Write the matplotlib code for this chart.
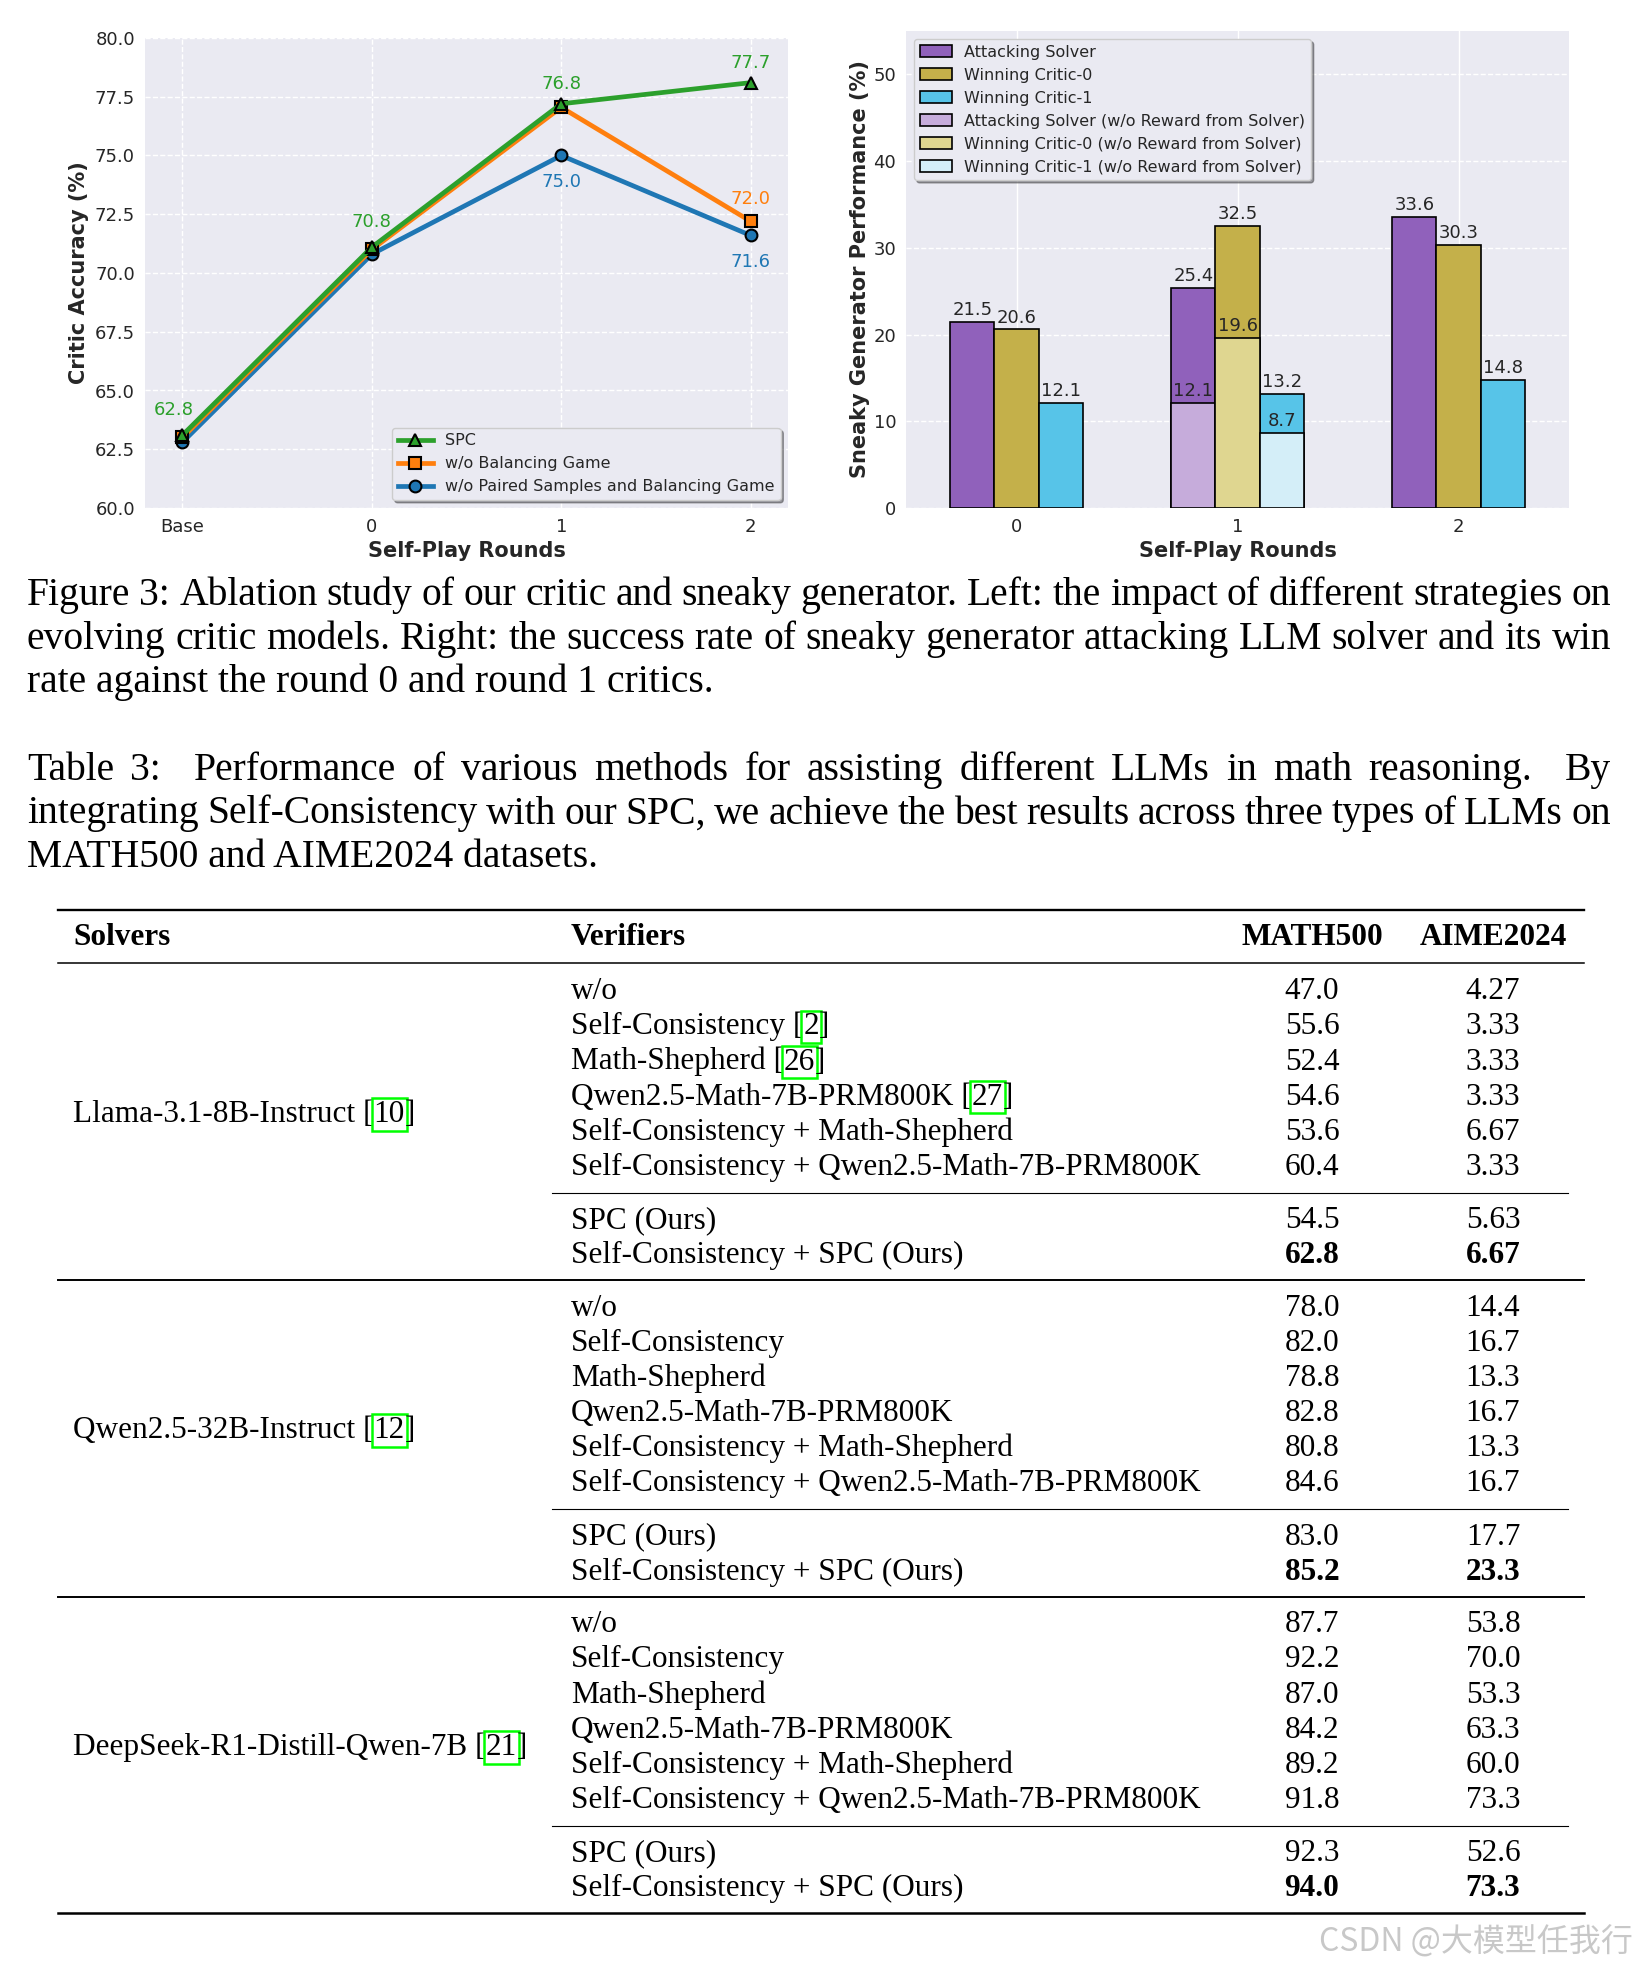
import numpy as np
import matplotlib
matplotlib.use("Agg")
import matplotlib.pyplot as plt
from matplotlib.lines import Line2D

W, H = 1638, 1967

# ---- left chart: critic accuracy ----
round_labels = ["Base", "0", "1", "2"]
spc = [63.1, 71.1, 77.2, 78.1]
no_balance = [63.0, 71.0, 77.05, 72.2]
no_paired = [62.8, 70.8, 75.0, 71.6]
spc_text = ["62.8", "70.8", "76.8", "77.7"]
no_balance_text = {3: "72.0"}
no_paired_text = {2: "75.0", 3: "71.6"}

# ---- right chart: sneaky generator ----
rounds = [0, 1, 2]
attack = [21.5, 25.4, 33.6]
critic0 = [20.6, 32.5, 30.3]
critic1 = [12.1, 13.2, 14.8]
nr_rounds = [1]
attack_nr = [12.1]
critic0_nr = [19.6]
critic1_nr = [8.7]

# ---- captions ----
fig_caption = [
    "Figure 3: Ablation study of our critic and sneaky generator. Left: the impact of different strategies on",
    "evolving critic models. Right: the success rate of sneaky generator attacking LLM solver and its win",
    "rate against the round 0 and round 1 critics.",
]
tab_caption = [
    "Table 3:  Performance of various methods for assisting different LLMs in math reasoning.  By",
    "integrating Self-Consistency with our SPC, we achieve the best results across three types of LLMs on",
    "MATH500 and AIME2024 datasets.",
]

# ---- table ----
headers = ["Solvers", "Verifiers", "MATH500", "AIME2024"]
solvers = ["Llama-3.1-8B-Instruct", "Qwen2.5-32B-Instruct", "DeepSeek-R1-Distill-Qwen-7B"]
solver_refs = ["10", "12", "21"]
verifiers = ["w/o", "Self-Consistency", "Math-Shepherd", "Qwen2.5-Math-7B-PRM800K",
             "Self-Consistency + Math-Shepherd", "Self-Consistency + Qwen2.5-Math-7B-PRM800K",
             "SPC (Ours)", "Self-Consistency + SPC (Ours)"]
verifier_refs = {1: "2", 2: "26", 3: "27"}  # only cited in first group
math500 = [
    ["47.0", "55.6", "52.4", "54.6", "53.6", "60.4", "54.5", "62.8"],
    ["78.0", "82.0", "78.8", "82.8", "80.8", "84.6", "83.0", "85.2"],
    ["87.7", "92.2", "87.0", "84.2", "89.2", "91.8", "92.3", "94.0"],
]
aime2024 = [
    ["4.27", "3.33", "3.33", "3.33", "6.67", "3.33", "5.63", "6.67"],
    ["14.4", "16.7", "13.3", "16.7", "13.3", "16.7", "17.7", "23.3"],
    ["53.8", "70.0", "53.3", "63.3", "60.0", "73.3", "52.6", "73.3"],
]

GREEN, ORANGE, BLUE = "#2ca02c", "#ff7f0e", "#1f77b4"
PURPLE, OLIVE, CYAN = "#9061bb", "#c4b04a", "#57c4e8"
L_PURPLE, L_OLIVE, L_CYAN = "#c6acdb", "#dfd690", "#d4eef8"
TXT = "#262626"
SERIF = "Liberation Serif"


def fx(x):
    return x / W


def fy(y):
    return 1 - y / H


def style_axes(ax):
    ax.set_facecolor("#EAEAF2")
    for s in ax.spines.values():
        s.set_visible(False)
    ax.tick_params(length=0, labelsize=13, colors=TXT, pad=7)
    ax.set_axisbelow(True)


fig = plt.figure(figsize=(W / 100, H / 100), dpi=100)
fig.patch.set_facecolor("white")

# left chart
ax1 = fig.add_axes([fx(144.6), fy(508), (788.5 - 144.6) / W, (508 - 38) / H])
style_axes(ax1)
ax1.grid(True, color="white", linestyle="--", linewidth=1)
xs = np.arange(len(round_labels))
mk = dict(ms=8.5, mec="black", mew=1.5, lw=3.4)
l3, = ax1.plot(xs, no_paired, color=BLUE, marker="o", label="w/o Paired Samples and Balancing Game", zorder=3, **mk)
l2, = ax1.plot(xs, no_balance, color=ORANGE, marker="s", label="w/o Balancing Game", zorder=4, **mk)
l1, = ax1.plot(xs, spc, color=GREEN, marker="^", label="SPC", zorder=5, **mk)

for i, t in enumerate(spc_text):
    dx = -6 if i == 0 else 0
    dy = 18 if i < 2 else 14
    ax1.annotate(t, (xs[i], spc[i]), xytext=(dx, dy), textcoords="offset points",
                 ha="center", va="center", fontsize=13, color=GREEN)
for i, t in no_balance_text.items():
    ax1.annotate(t, (xs[i], no_balance[i]), xytext=(0, 16), textcoords="offset points",
                 ha="center", va="center", fontsize=13, color=ORANGE)
for i, t in no_paired_text.items():
    ax1.annotate(t, (xs[i], no_paired[i]), xytext=(0, -19), textcoords="offset points",
                 ha="center", va="center", fontsize=13, color=BLUE)

ax1.set_xlim(-0.2, 3.2)
ax1.set_ylim(60, 80)
ax1.set_xticks(xs, round_labels)
ax1.set_yticks(np.arange(60, 80.1, 2.5))
ax1.set_yticklabels([f"{v:.1f}" for v in np.arange(60, 80.1, 2.5)])
ax1.set_xlabel("Self-Play Rounds", fontsize=15, fontweight="bold", color=TXT)
ax1.set_ylabel("Critic Accuracy (%)", fontsize=15, fontweight="bold", color=TXT)
ax1.xaxis.set_label_coords(0.5, -0.07)
ax1.yaxis.set_label_coords(-0.087, 0.5)
leg1 = ax1.legend([l1, l2, l3], [l1.get_label(), l2.get_label(), l3.get_label()],
                  loc="lower right", fontsize=11.5, frameon=True, shadow=True, framealpha=1,
                  facecolor="#EAEAF2", edgecolor="#CCCCCC", labelspacing=0.5, handlelength=2.2,
                  borderpad=0.35)
for t in leg1.get_texts():
    t.set_color(TXT)

# right chart
ax2 = fig.add_axes([fx(906), fy(508), (1569 - 906) / W, (508 - 31) / H])
style_axes(ax2)
ax2.grid(True, axis="x", color="white", linestyle="-", linewidth=1)
ax2.grid(True, axis="y", color="white", linestyle="--", linewidth=1)
bw = 0.2
r = np.array(rounds)
rn = np.array(nr_rounds)
bk = dict(edgecolor="black", linewidth=1.2)
containers = [
    ax2.bar(r - bw, attack, bw, color=PURPLE, label="Attacking Solver", zorder=2, **bk),
    ax2.bar(r, critic0, bw, color=OLIVE, label="Winning Critic-0", zorder=2, **bk),
    ax2.bar(r + bw, critic1, bw, color=CYAN, label="Winning Critic-1", zorder=2, **bk),
    ax2.bar(rn - bw, attack_nr, bw, color=L_PURPLE, label="Attacking Solver (w/o Reward from Solver)", zorder=3, **bk),
    ax2.bar(rn, critic0_nr, bw, color=L_OLIVE, label="Winning Critic-0 (w/o Reward from Solver)", zorder=3, **bk),
    ax2.bar(rn + bw, critic1_nr, bw, color=L_CYAN, label="Winning Critic-1 (w/o Reward from Solver)", zorder=3, **bk),
]
for c in containers:
    ax2.bar_label(c, fmt="%.1f", padding=2, fontsize=13, color=TXT, zorder=6)
ax2.set_xlim(-0.5, 2.5)
ax2.set_ylim(0, 55)
ax2.set_xticks(rounds, [str(v) for v in rounds])
ax2.set_yticks(np.arange(0, 51, 10))
ax2.set_xlabel("Self-Play Rounds", fontsize=15, fontweight="bold", color=TXT)
ax2.set_ylabel("Sneaky Generator Performance (%)", fontsize=15, fontweight="bold", color=TXT)
ax2.xaxis.set_label_coords(0.5, -0.07)
ax2.yaxis.set_label_coords(-0.055, 0.5)
leg2 = ax2.legend(loc="upper left", fontsize=11.5, frameon=True, shadow=True, framealpha=1,
                  facecolor="#EAEAF2", edgecolor="#CCCCCC", labelspacing=0.5, borderpad=0.35)
for t in leg2.get_texts():
    t.set_color(TXT)

renderer = fig.canvas.get_renderer()


def text_width(t):
    return t.get_window_extent(renderer).width


def draw_paragraph(lines, x0, x1, y0, step, size):
    for k, line in enumerate(lines):
        y = y0 + k * step
        if k == len(lines) - 1:
            fig.text(fx(x0), fy(y), line, fontsize=size, family=SERIF, va="baseline", ha="left")
            continue
        # double spaces (after sentence ends) get a wider share of the stretch
        chunks = line.split(" ")
        words, weights = [], []
        for ch in chunks:
            if ch == "":
                weights[-1] += 1
            else:
                words.append(ch)
                weights.append(1)
        weights = weights[:-1]
        texts = [fig.text(0, fy(y), w, fontsize=size, family=SERIF, va="baseline", ha="left") for w in words]
        widths = [text_width(t) for t in texts]
        unit = (x1 - x0 - sum(widths)) / sum(weights)
        x = x0
        for j, (t, w) in enumerate(zip(texts, widths)):
            t.set_x(fx(x))
            if j < len(weights):
                x += w + unit * weights[j]


def draw_pieces(x, y, pieces, size, weight="normal"):
    # pieces: list of (text, boxed)
    for txt, boxed in pieces:
        kw = dict(fontsize=size, family=SERIF, va="baseline", ha="left", fontweight=weight)
        if boxed:
            kw["bbox"] = dict(boxstyle="square,pad=0.06", fc="none", ec="#00ff00", lw=1.8)
        t = fig.text(fx(x), fy(y), txt, **kw)
        x += text_width(t)


draw_paragraph(fig_caption, 27, 1611, 605, 43.5, 28.5)
draw_paragraph(tab_caption, 27, 1611, 780, 43.5, 28.5)

# table
TS = 22.5
x_solver, x_verifier, x_math, x_aime = 73, 571, 1312, 1493
stride, row0, step, gap_extra = 316.5, 999.3, 35.1, 18.1


def hrule(y, x0, x1, lw):
    fig.add_artist(Line2D([fx(x0), fx(x1)], [fy(y), fy(y)], transform=fig.transFigure,
                          color="black", lw=lw))


hrule(910, 58, 1584, 1.7)
hrule(963.3, 58, 1584, 1.1)
fig.text(fx(x_solver), fy(945), headers[0], fontsize=TS, family=SERIF, fontweight="bold", va="baseline")
fig.text(fx(x_verifier), fy(945), headers[1], fontsize=TS, family=SERIF, fontweight="bold", va="baseline")
fig.text(fx(x_math), fy(945), headers[2], fontsize=TS, family=SERIF, fontweight="bold", va="baseline", ha="center")
fig.text(fx(x_aime), fy(945), headers[3], fontsize=TS, family=SERIF, fontweight="bold", va="baseline", ha="center")

for g, solver in enumerate(solvers):
    off = g * stride
    draw_pieces(x_solver, 1121.7 + off, [(solver + " [", False), (solver_refs[g], True), ("]", False)], TS)
    for i, v in enumerate(verifiers):
        y = row0 + off + i * step + (gap_extra if i >= 6 else 0)
        if g == 0 and i in verifier_refs:
            draw_pieces(x_verifier, y, [(v + " [", False), (verifier_refs[i], True), ("]", False)], TS)
        else:
            fig.text(fx(x_verifier), fy(y), v, fontsize=TS, family=SERIF, va="baseline")
        wt = "bold" if i == len(verifiers) - 1 else "normal"
        fig.text(fx(x_math), fy(y), math500[g][i], fontsize=TS, family=SERIF, va="baseline",
                 ha="center", fontweight=wt)
        fig.text(fx(x_aime), fy(y), aime2024[g][i], fontsize=TS, family=SERIF, va="baseline",
                 ha="center", fontweight=wt)
    hrule(1192.7 + off, 552, 1568, 0.8)
    hrule(1280 + off, 58, 1584, 1.8 if g == len(solvers) - 1 else 1.4)

fig.text(fx(1633), fy(1952), "CSDN @大模型任我行", ha="right", va="baseline", fontsize=23,
         color="#c8c8c8", family=["Noto Sans CJK SC", "DejaVu Sans"])

fig.savefig("out.png", dpi=100)
